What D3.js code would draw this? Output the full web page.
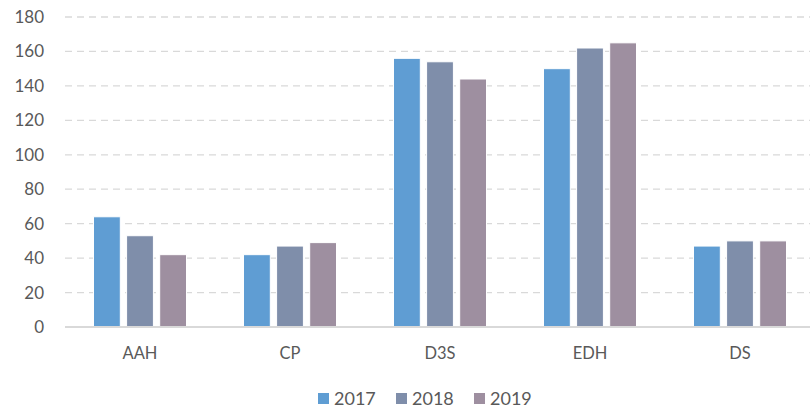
<!DOCTYPE html>
<html>
<head>
<meta charset="utf-8">
<script src="https://cdn.jsdelivr.net/npm/d3@7"></script>
<style>
  body { margin: 0; background: #fff; overflow: hidden; }
  text { font-family: Lato, "Open Sans", sans-serif; fill: #595959; }
</style>
</head>
<body>
<svg id="chart" width="810" height="411"></svg>
<script>
// Data
const categories = ["AAH", "CP", "D3S", "EDH", "DS"];
const years = ["2017", "2018", "2019"];
const v2017 = [64, 42, 156, 150, 47];
const v2018 = [53, 47, 154, 162, 50];
const v2019 = [42, 49, 144, 165, 50];
const yTicks = [0, 20, 40, 60, 80, 100, 120, 140, 160, 180];
const colors = ["#5f9dd3", "#7f8eaa", "#9e8fa0"];

const rows = categories.map((c, i) => ({ cat: c, vals: [v2017[i], v2018[i], v2019[i]] }));

const svg = d3.select("#chart");
// plot runs slightly past the right edge of the picture, as in the reference
const margin = { top: 17, right: -5, bottom: 84, left: 65 };
const W = 810, H = 411;
const innerW = W - margin.left - margin.right;
const innerH = H - margin.top - margin.bottom;
const g = svg.append("g").attr("transform", `translate(${margin.left},${margin.top})`);

const x = d3.scaleBand().domain(categories).range([0, innerW]).paddingInner(0.38).paddingOuter(0.19);
const xs = d3.scaleBand().domain(years).range([0, x.bandwidth()]).paddingInner(0.19);
const y = d3.scaleLinear().domain([0, 180]).range([innerH, 0]);

// Gridlines
g.selectAll("line.grid")
  .data(yTicks.filter(d => d > 0))
  .join("line")
    .attr("class", "grid")
    .attr("x1", 0).attr("x2", innerW)
    .attr("y1", d => y(d)).attr("y2", d => y(d))
    .attr("stroke", "#d9d9d9")
    .attr("stroke-width", 1.3)
    .attr("stroke-dasharray", "7,5");

// Y tick labels
g.selectAll("text.ytick")
  .data(yTicks)
  .join("text")
    .attr("class", "ytick")
    .attr("x", -21)
    .attr("y", d => y(d))
    .attr("dy", "0.35em")
    .attr("text-anchor", "end")
    .style("font-size", "17px")
    .text(d => d);

// Bars
const groups = g.selectAll("g.cat")
  .data(rows)
  .join("g")
    .attr("class", "cat")
    .attr("transform", d => `translate(${x(d.cat)},0)`);

groups.selectAll("rect")
  .data(d => d.vals.map((v, i) => ({ year: years[i], v, i })))
  .join("rect")
    .attr("x", d => xs(d.year))
    .attr("y", d => y(d.v))
    .attr("width", xs.bandwidth())
    .attr("height", d => innerH - y(d.v))
    .attr("fill", d => colors[d.i])
    .attr("stroke", "#fff")
    .attr("stroke-width", 1);

// Baseline
g.append("line")
  .attr("x1", 0).attr("x2", innerW)
  .attr("y1", innerH).attr("y2", innerH)
  .attr("stroke", "#d9d9d9")
  .attr("stroke-width", 2);

// Category labels
g.selectAll("text.xcat")
  .data(categories)
  .join("text")
    .attr("class", "xcat")
    .attr("x", d => x(d) + x.bandwidth() / 2)
    .attr("y", innerH + 32)
    .attr("text-anchor", "middle")
    .style("font-size", "16.5px")
    .text(d => d);

// Legend
const legend = svg.append("g").attr("transform", "translate(318,393)");
const itemW = 78;
years.forEach((yr, i) => {
  const it = legend.append("g").attr("transform", `translate(${i * itemW},0)`);
  it.append("rect").attr("x", 0).attr("y", 0).attr("width", 11).attr("height", 11).attr("fill", colors[i]);
  it.append("text").attr("x", 16).attr("y", 6).attr("dy", "0.35em").style("font-size", "18px").text(yr);
});
</script>
</body>
</html>
